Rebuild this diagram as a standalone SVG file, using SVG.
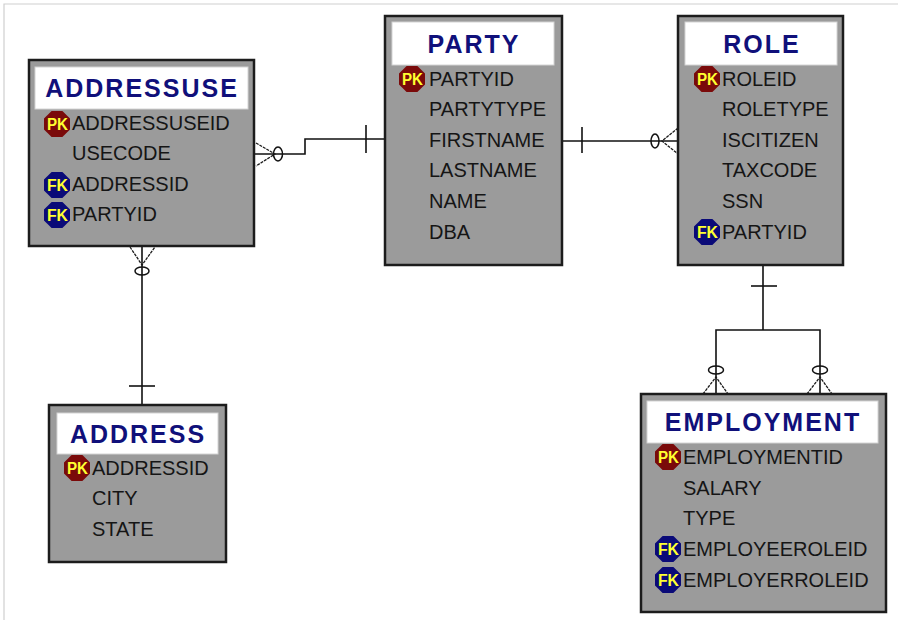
<svg xmlns="http://www.w3.org/2000/svg" width="899" height="621" viewBox="0 0 899 621">
  <defs>
    <style>
      .box { fill: #9b9b9b; stroke: #1c1c1c; stroke-width: 2.5; }
      .hdr { fill: #ffffff; stroke: #d4d4d4; stroke-width: 1; }
      .title { font-family: "Liberation Sans", Arial, sans-serif; font-weight: bold; font-size: 25px; fill: #10107a; letter-spacing: 2px; text-anchor: middle; }
      .fld { font-family: "Liberation Sans", Arial, sans-serif; font-size: 20px; fill: #151515; }
      .key { font-family: "Liberation Sans", Arial, sans-serif; font-weight: bold; font-size: 16px; fill: #ffff30; }
      .pk { fill: #7a0a0a; }
      .fk { fill: #0a0a78; }
      .ln { fill: none; stroke: #111; stroke-width: 1.6; }
      .crow { fill: none; stroke: #1a1a1a; stroke-width: 1.3; stroke-dasharray: 3 1; }
      .ring { fill: none; stroke: #111; stroke-width: 1.5; }
      .frame { fill: none; stroke: #cfcfcf; stroke-width: 1.2; }
    </style>
    <polygon id="oct" points="-5.4,-13 5.4,-13 13,-5.4 13,5.4 5.4,13 -5.4,13 -13,5.4 -13,-5.4"/>
  </defs>

  <rect width="899" height="621" fill="#ffffff"/>
  <!-- page frame -->
  <path class="frame" d="M4,620 V4 H898"/>

  <!-- relationship lines -->
  <g id="connectors">
    <!-- ADDRESSUSE (many, optional) to PARTY (one) -->
    <path class="ln" d="M254,154 H305 V139 H385"/>
    <path class="ln" d="M366,125 V153"/>
    <ellipse class="ring" cx="278" cy="154" rx="4.5" ry="7"/>
    <path class="crow" d="M256,143 L275,154 L256,166"/>

    <!-- PARTY (one) to ROLE (many, optional) -->
    <path class="ln" d="M562,141 H678"/>
    <path class="ln" d="M582,127 V153"/>
    <ellipse class="ring" cx="655" cy="141" rx="4" ry="7"/>
    <path class="crow" d="M678,128 L662,141 L678,154"/>

    <!-- ADDRESSUSE (many, optional) to ADDRESS (one) -->
    <path class="ln" d="M142,246 V405"/>
    <path class="ln" d="M129,386 H155"/>
    <ellipse class="ring" cx="142" cy="271" rx="7" ry="4"/>
    <path class="crow" d="M130,247 L142,265 L155,247"/>

    <!-- ROLE (one) to EMPLOYMENT (many, optional), two relationships -->
    <path class="ln" d="M763,265 V330 M716,394 V330 H820 V394"/>
    <path class="ln" d="M751,286 H777"/>
    <ellipse class="ring" cx="716" cy="370" rx="7.5" ry="4"/>
    <ellipse class="ring" cx="820" cy="370" rx="7.5" ry="4"/>
    <path class="crow" d="M703,394 L716,377 L728,394"/>
    <path class="crow" d="M807,394 L820,377 L832,394"/>
  </g>

  <!-- ADDRESSUSE -->
  <g id="addressuse">
    <rect class="box" x="29" y="60" width="225" height="186"/>
    <rect class="hdr" x="35" y="67" width="213" height="42"/>
    <text class="title" x="142" y="97">ADDRESSUSE</text>
    <use href="#oct" class="pk" x="57" y="124"/>
    <text class="key" x="47" y="130" textLength="21" lengthAdjust="spacingAndGlyphs">PK</text>
    <text class="fld" x="72" y="130">ADDRESSUSEID</text>
    <text class="fld" x="72" y="160">USECODE</text>
    <use href="#oct" class="fk" x="57" y="185"/>
    <text class="key" x="47" y="191" textLength="21" lengthAdjust="spacingAndGlyphs">FK</text>
    <text class="fld" x="72" y="191">ADDRESSID</text>
    <use href="#oct" class="fk" x="57" y="215"/>
    <text class="key" x="47" y="221" textLength="21" lengthAdjust="spacingAndGlyphs">FK</text>
    <text class="fld" x="72" y="221">PARTYID</text>
  </g>

  <!-- PARTY -->
  <g id="party">
    <rect class="box" x="385" y="16" width="177" height="249"/>
    <rect class="hdr" x="392" y="22" width="162" height="43"/>
    <text class="title" x="474" y="53">PARTY</text>
    <use href="#oct" class="pk" x="412" y="79"/>
    <text class="key" x="402" y="85" textLength="21" lengthAdjust="spacingAndGlyphs">PK</text>
    <text class="fld" x="429" y="86">PARTYID</text>
    <text class="fld" x="429" y="116">PARTYTYPE</text>
    <text class="fld" x="429" y="147">FIRSTNAME</text>
    <text class="fld" x="429" y="177">LASTNAME</text>
    <text class="fld" x="429" y="208">NAME</text>
    <text class="fld" x="429" y="239">DBA</text>
  </g>

  <!-- ROLE -->
  <g id="role">
    <rect class="box" x="678" y="16" width="165" height="249"/>
    <rect class="hdr" x="685" y="22" width="152" height="43"/>
    <text class="title" x="762" y="53">ROLE</text>
    <use href="#oct" class="pk" x="707" y="79"/>
    <text class="key" x="697" y="85" textLength="21" lengthAdjust="spacingAndGlyphs">PK</text>
    <text class="fld" x="722" y="86">ROLEID</text>
    <text class="fld" x="722" y="116">ROLETYPE</text>
    <text class="fld" x="722" y="147">ISCITIZEN</text>
    <text class="fld" x="722" y="177">TAXCODE</text>
    <text class="fld" x="722" y="208">SSN</text>
    <use href="#oct" class="fk" x="707" y="232"/>
    <text class="key" x="697" y="238" textLength="21" lengthAdjust="spacingAndGlyphs">FK</text>
    <text class="fld" x="722" y="239">PARTYID</text>
  </g>

  <!-- ADDRESS -->
  <g id="address">
    <rect class="box" x="49" y="405" width="177" height="157"/>
    <rect class="hdr" x="57" y="413" width="161" height="41"/>
    <text class="title" x="138" y="443">ADDRESS</text>
    <use href="#oct" class="pk" x="77" y="468"/>
    <text class="key" x="67" y="474" textLength="21" lengthAdjust="spacingAndGlyphs">PK</text>
    <text class="fld" x="92" y="475">ADDRESSID</text>
    <text class="fld" x="92" y="505">CITY</text>
    <text class="fld" x="92" y="536">STATE</text>
  </g>

  <!-- EMPLOYMENT -->
  <g id="employment">
    <rect class="box" x="641" y="394" width="245" height="218"/>
    <rect class="hdr" x="647" y="401" width="231" height="42"/>
    <text class="title" x="763" y="431">EMPLOYMENT</text>
    <use href="#oct" class="pk" x="668" y="457"/>
    <text class="key" x="658" y="463" textLength="21" lengthAdjust="spacingAndGlyphs">PK</text>
    <text class="fld" x="683" y="464">EMPLOYMENTID</text>
    <text class="fld" x="683" y="495">SALARY</text>
    <text class="fld" x="683" y="525">TYPE</text>
    <use href="#oct" class="fk" x="668" y="549"/>
    <text class="key" x="658" y="555" textLength="21" lengthAdjust="spacingAndGlyphs">FK</text>
    <text class="fld" x="683" y="556">EMPLOYEEROLEID</text>
    <use href="#oct" class="fk" x="668" y="580"/>
    <text class="key" x="658" y="586" textLength="21" lengthAdjust="spacingAndGlyphs">FK</text>
    <text class="fld" x="683" y="587">EMPLOYERROLEID</text>
  </g>
</svg>
